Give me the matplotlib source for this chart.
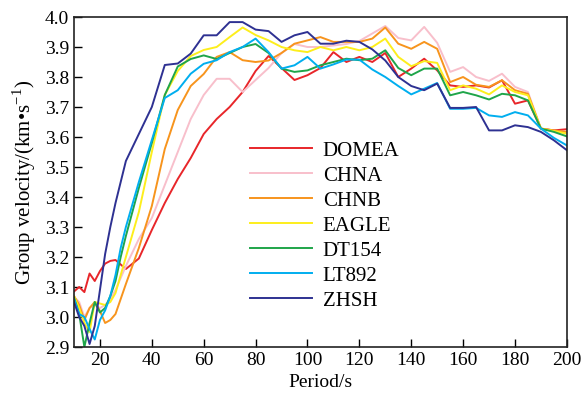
import numpy as np
import matplotlib
matplotlib.use("Agg")
import matplotlib.pyplot as plt

plt.rcParams["font.family"] = ["Liberation Serif", "DejaVu Serif"]
plt.rcParams["mathtext.fontset"] = "custom"
plt.rcParams["mathtext.rm"] = "Liberation Serif"

# Periods (s)
periods = [10, 12, 14, 16, 18, 20, 22, 24, 26, 28, 30,
           35, 40, 45, 50, 55, 60, 65, 70, 75, 80, 85, 90, 95, 100,
           105, 110, 115, 120, 125, 130, 135, 140, 145, 150,
           155, 160, 165, 170, 175, 180, 185, 190, 195, 200]

# Group velocities (km/s)
domea = [3.085, 3.10, 3.083, 3.145, 3.12, 3.153, 3.178, 3.187, 3.19, 3.175, 3.16,
         3.195, 3.29, 3.38, 3.46, 3.53, 3.61, 3.66, 3.70, 3.75, 3.82, 3.87, 3.83, 3.79, 3.806,
         3.83, 3.883, 3.85, 3.867, 3.85, 3.88, 3.80, 3.828, 3.861, 3.822,
         3.772, 3.767, 3.772, 3.765, 3.789, 3.711, 3.722, 3.628, 3.622, 3.626]
chna = [3.067, 3.05, 3.0, 3.03, 3.04, 3.03, 3.04, 3.06, 3.09, 3.13, 3.17,
        3.26, 3.33, 3.44, 3.55, 3.66, 3.74, 3.794, 3.794, 3.75, 3.79, 3.83, 3.88, 3.91, 3.90,
        3.90, 3.905, 3.91, 3.92, 3.945, 3.97, 3.93, 3.922, 3.967, 3.914,
        3.817, 3.833, 3.80, 3.787, 3.811, 3.767, 3.75, 3.628, 3.62, 3.615]
chnb = [3.07, 3.04, 2.99, 3.03, 3.05, 3.02, 2.98, 2.99, 3.01, 3.06, 3.11,
        3.23, 3.37, 3.56, 3.69, 3.77, 3.81, 3.867, 3.883, 3.856, 3.85, 3.855, 3.88, 3.911, 3.922,
        3.933, 3.917, 3.917, 3.917, 3.928, 3.965, 3.911, 3.894, 3.917, 3.894,
        3.783, 3.80, 3.774, 3.767, 3.789, 3.756, 3.744, 3.628, 3.622, 3.617]
eagle = [3.07, 3.03, 2.98, 2.95, 3.05, 3.045, 3.04, 3.05, 3.08, 3.14, 3.20,
         3.35, 3.55, 3.74, 3.82, 3.87, 3.89, 3.90, 3.933, 3.965, 3.94, 3.922, 3.90, 3.889, 3.883,
         3.90, 3.889, 3.90, 3.889, 3.90, 3.928, 3.867, 3.836, 3.853, 3.847,
         3.756, 3.772, 3.761, 3.742, 3.772, 3.75, 3.739, 3.628, 3.62, 3.611]
dt154 = [3.065, 3.01, 2.90, 2.98, 3.05, 3.015, 3.03, 3.07, 3.12, 3.20, 3.27,
         3.43, 3.58, 3.74, 3.835, 3.86, 3.872, 3.86, 3.88, 3.90, 3.91, 3.88, 3.828, 3.817, 3.822,
         3.839, 3.85, 3.861, 3.856, 3.861, 3.889, 3.83, 3.806, 3.828, 3.828,
         3.739, 3.75, 3.739, 3.725, 3.744, 3.739, 3.722, 3.628, 3.617, 3.602]
lt892 = [3.06, 3.01, 3.0, 2.96, 2.925, 2.99, 3.022, 3.07, 3.14, 3.23, 3.30,
         3.45, 3.59, 3.73, 3.756, 3.811, 3.844, 3.856, 3.883, 3.90, 3.928, 3.883, 3.828, 3.839, 3.867,
         3.828, 3.842, 3.858, 3.858, 3.825, 3.80, 3.77, 3.742, 3.761, 3.78,
         3.694, 3.694, 3.697, 3.672, 3.667, 3.683, 3.672, 3.628, 3.597, 3.572]
zhsh = [3.05, 3.0, 2.97, 2.91, 2.97, 3.09, 3.21, 3.30, 3.38, 3.45, 3.52,
        3.61, 3.70, 3.84, 3.845, 3.878, 3.939, 3.939, 3.983, 3.983, 3.958, 3.953, 3.917, 3.939, 3.95,
        3.911, 3.911, 3.921, 3.917, 3.892, 3.855, 3.80, 3.77, 3.756, 3.778,
        3.697, 3.697, 3.70, 3.622, 3.622, 3.639, 3.633, 3.617, 3.589, 3.556]

series = [
    ("DOMEA", domea, "#e8262a"),
    ("CHNA", chna, "#f8bfcb"),
    ("CHNB", chnb, "#f7941d"),
    ("EAGLE", eagle, "#fdee1c"),
    ("DT154", dt154, "#1fa54a"),
    ("LT892", lt892, "#00aeef"),
    ("ZHSH", zhsh, "#2e3192"),
]

fig = plt.figure(figsize=(5.85, 4.0), dpi=100)
ax = fig.add_axes([0.1265, 0.1325, 0.8425, 0.825])

for name, vals, color in series:
    ax.plot(periods, vals, color=color, lw=1.4, label=name)

ax.set_xlim(10, 200)
ax.set_ylim(2.9, 4.0)
ax.set_xticks(np.arange(20, 201, 20))
ax.set_yticks(np.arange(2.9, 4.01, 0.1))
ax.set_yticklabels([f"{v:.1f}" for v in np.arange(2.9, 4.01, 0.1)])
ax.tick_params(direction="in", length=6, width=1, labelsize=14, top=False, right=False)
for sp in ax.spines.values():
    sp.set_linewidth(1.2)
    sp.set_color("#222222")

ax.set_xlabel("Period/s", fontsize=14, labelpad=4)
ax.set_ylabel("Group velocity/(km•s$^{-1}$)", fontsize=15, labelpad=5)

ax.legend(loc="center left", bbox_to_anchor=(0.357, 0.367), frameon=False,
          fontsize=15, handlelength=3.0, handletextpad=0.5, labelspacing=0.26,
          borderpad=0, borderaxespad=0)

fig.savefig("out.png", dpi=100)
